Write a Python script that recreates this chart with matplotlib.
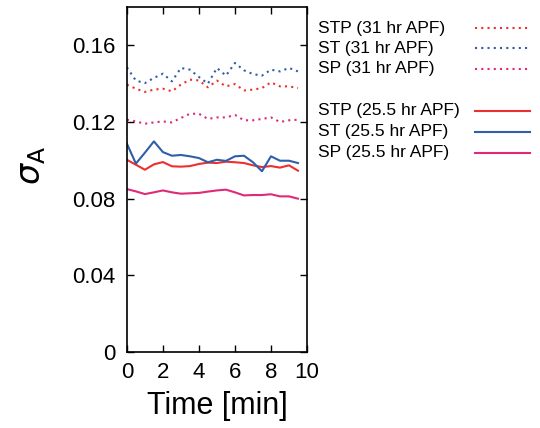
import numpy as np
import matplotlib.pyplot as plt
from matplotlib.lines import Line2D

plt.rcParams['font.family'] = ['Liberation Sans', 'DejaVu Sans']
plt.rcParams['mathtext.fontset'] = 'dejavusans'

time = np.arange(0, 10, 0.5)

# 31 hr APF (dotted)
stp_31 = [0.1395, 0.1374, 0.1357, 0.1369, 0.1374, 0.1360, 0.1395, 0.1421, 0.1417, 0.1381,
          0.1416, 0.1386, 0.1398, 0.1365, 0.1369, 0.1377, 0.1407, 0.1386, 0.1386, 0.1377]
st_31 = [0.1485, 0.1416, 0.1403, 0.1430, 0.1452, 0.1412, 0.1482, 0.1473, 0.1435, 0.1400,
         0.1482, 0.1442, 0.1508, 0.1470, 0.1450, 0.1442, 0.1473, 0.1464, 0.1482, 0.1464]
sp_31 = [0.1212, 0.1203, 0.1191, 0.1198, 0.1203, 0.1198, 0.1221, 0.1243, 0.1243, 0.1216,
         0.1224, 0.1224, 0.1237, 0.1209, 0.1209, 0.1216, 0.1224, 0.1200, 0.1209, 0.1212]

# 25.5 hr APF (solid)
stp_25 = [0.1003, 0.0977, 0.0951, 0.0979, 0.0991, 0.0969, 0.0967, 0.0970, 0.0981, 0.0988,
          0.0986, 0.0993, 0.0990, 0.0986, 0.0974, 0.0965, 0.0970, 0.0962, 0.0974, 0.0946]
st_25 = [0.1087, 0.0983, 0.1040, 0.1099, 0.1043, 0.1024, 0.1028, 0.1021, 0.1012, 0.0990,
         0.1003, 0.0997, 0.1021, 0.1024, 0.0990, 0.0943, 0.1021, 0.0998, 0.0998, 0.0986]
sp_25 = [0.0850, 0.0838, 0.0824, 0.0833, 0.0843, 0.0833, 0.0826, 0.0828, 0.0830, 0.0837,
         0.0843, 0.0847, 0.0833, 0.0817, 0.0819, 0.0819, 0.0823, 0.0812, 0.0812, 0.0800]

labels = ["STP (31 hr APF)", "ST (31 hr APF)", "SP (31 hr APF)",
          "STP (25.5 hr APF)", "ST (25.5 hr APF)", "SP (25.5 hr APF)"]
yticks = [0, 0.04, 0.08, 0.12, 0.16]
ytick_labels = ["0", "0.04", "0.08", "0.12", "0.16"]
xticks = [0, 2, 4, 6, 8, 10]

red = "#ee2f2f"
blue = "#2e5fa8"
pink = "#de2a78"
dot = (0, (1, 2))

fig = plt.figure(figsize=(5.4, 4.28), dpi=100)
ax = fig.add_axes([0.235, 0.1776, 0.3335, 0.806])

series = [(stp_31, red, dot), (st_31, blue, dot), (sp_31, pink, dot),
          (stp_25, red, "-"), (st_25, blue, "-"), (sp_25, pink, "-")]
for vals, c, ls in series:
    ax.plot(time, vals, color=c, linestyle=ls, linewidth=1.5)

ax.set_xlim(0, 10)
ax.set_ylim(0, 0.18)
ax.set_xticks(xticks)
ax.set_yticks(yticks)
ax.set_yticklabels(ytick_labels)
ax.tick_params(direction="in", top=True, right=True, length=5, width=1,
               labelsize=16)
ax.tick_params(axis="y", pad=8)
ax.tick_params(axis="x", pad=7)
for s in ax.spines.values():
    s.set_linewidth(1.2)

ax.set_xlabel("Time [min]", fontsize=22, labelpad=6)
ax.set_ylabel(r"$\sigma_{\mathrm{A}}$", fontsize=24, rotation=90)
ax.yaxis.set_label_coords(-0.44, 0.54)

# legend drawn by hand: text left, sample line right
rows_y = [28, 48, 69, 111, 131.5, 152.5]
for (vals, c, ls), lab, yp in zip(series, labels, rows_y):
    fy = 1 - yp / 428
    fig.text(318 / 540, fy, lab, fontsize=12.5, va="center", ha="left")
    fig.add_artist(Line2D([475 / 540, 530 / 540], [fy, fy], color=c,
                          linestyle=ls, linewidth=1.5, transform=fig.transFigure))

fig.savefig("out.png", dpi=100)
